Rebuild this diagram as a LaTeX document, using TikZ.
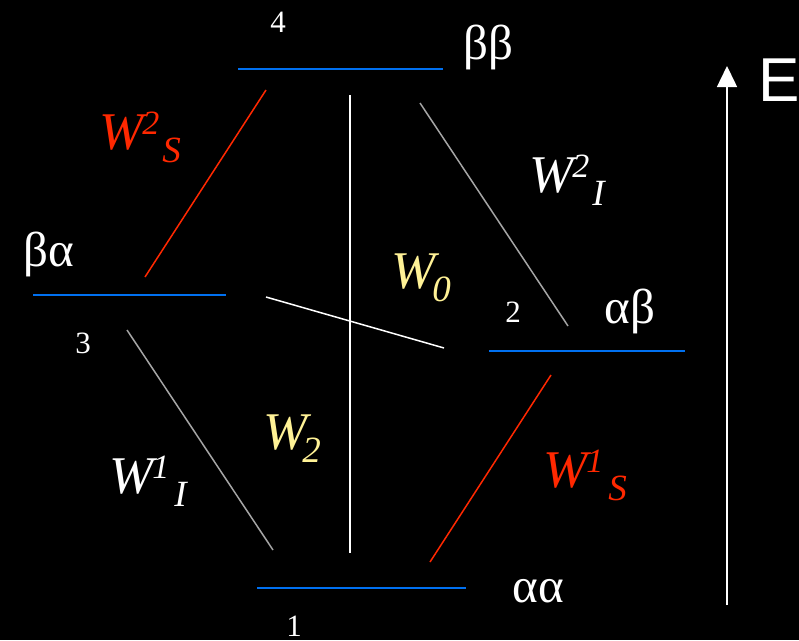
\documentclass[tikz,border=0pt]{standalone}
\usepackage{fontspec}
\setmainfont{Liberation Serif}
\newfontfamily\esans{Liberation Sans}
\usetikzlibrary{arrows.meta}
\definecolor{lvlblue}{RGB}{0,112,240}
\definecolor{wred}{RGB}{255,40,0}
\definecolor{wyel}{RGB}{255,242,150}
\definecolor{wgray}{RGB}{165,165,165}
\newcommand{\bigW}{\fontsize{53}{53}\selectfont\itshape W}
\newcommand{\supt}[1]{\raisebox{15pt}{\fontsize{34}{34}\selectfont\itshape #1}}
\newcommand{\subt}[1]{\raisebox{-13pt}{\fontsize{37}{37}\selectfont\itshape #1}}
\tikzset{
  level/.style={draw=lvlblue, line width=2.2pt},
  trans/.style={line width=1.5pt},
  wlab/.style={anchor=base west, inner sep=0pt},
  greek/.style={anchor=base, inner sep=0pt, text=white, font=\fontsize{49}{49}\selectfont},
  num/.style={anchor=base, inner sep=0pt, text=white, font=\fontsize{31}{31}\selectfont}
}
\begin{document}
\begin{tikzpicture}[x=1pt,y=-1pt]
\fill[black] (0,0) rectangle (799,640);
\useasboundingbox (0,0) rectangle (799,640);
% levels
\coordinate (l4a) at (238,69); \coordinate (l4b) at (443,69);
\coordinate (l3a) at (33,295); \coordinate (l3b) at (226,295);
\coordinate (l2a) at (489,351); \coordinate (l2b) at (685,351);
\coordinate (l1a) at (257,588); \coordinate (l1b) at (466,588);
\draw[level] (l4a) -- (l4b);
\draw[level] (l3a) -- (l3b);
\draw[level] (l2a) -- (l2b);
\draw[level] (l1a) -- (l1b);
% transitions
\coordinate (s2a) at (266,90);  \coordinate (s2b) at (145,277);
\coordinate (i2a) at (420,103); \coordinate (i2b) at (568,326);
\coordinate (w2a) at (350,95);  \coordinate (w2b) at (350,553);
\coordinate (w0a) at (266,297); \coordinate (w0b) at (444,348);
\coordinate (i1a) at (127,330); \coordinate (i1b) at (273,550);
\coordinate (s1a) at (551,375); \coordinate (s1b) at (430,562);
\draw[trans, wred] (s2a) -- (s2b);
\draw[trans, wgray] (i2a) -- (i2b);
\draw[trans, white] (w2a) -- (w2b);
\draw[trans, white] (w0a) -- (w0b);
\draw[trans, wgray] (i1a) -- (i1b);
\draw[trans, wred] (s1a) -- (s1b);
% energy arrow
\coordinate (ea) at (727,605); \coordinate (eb) at (727,66);
\draw[line width=1.5pt, white, -{Triangle[width=20pt,length=21pt]}] (ea) -- (eb);
\node[anchor=base, inner sep=0pt, text=white, font=\esans\fontsize{62}{62}\selectfont] (E) at (779,101) {E};
% state labels
\node[greek] (bb) at (488,59) {ββ};
\node[greek] (ba) at (49,266) {βα};
\node[greek] (ab) at (630,323) {αβ};
\node[greek] (aa) at (538,602) {αα};
\node[num] (n4) at (278,32) {4};
\node[num] (n3) at (83,353) {3};
\node[num] (n2) at (513,322) {2};
\node[num] (n1) at (294,636) {1};
% rate labels
\node[wlab, text=wred] (W2S) at (99,149) {\bigW\kern-1pt\supt{2}\kern3pt\subt{S}};
\node[wlab, text=white] (W2I) at (529,192) {\bigW\kern-1pt\supt{2}\kern3pt\subt{I}};
\node[wlab, text=wyel] (W0) at (391,288) {\bigW\kern-3pt\subt{0}};
\node[wlab, text=wyel] (W2) at (263,449) {\bigW\kern-5pt\subt{2}};
\node[wlab, text=white] (W1I) at (109,493) {\bigW\kern-1pt\supt{1}\kern5pt\subt{I}};
\node[wlab, text=wred] (W1S) at (543,487) {\bigW\kern-1pt\supt{1}\kern5pt\subt{S}};
\end{tikzpicture}
\end{document}
